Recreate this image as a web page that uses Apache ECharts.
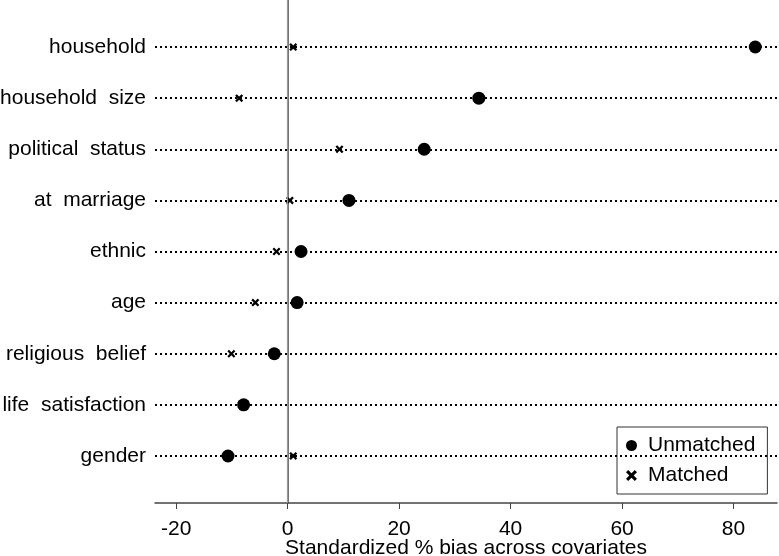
<!DOCTYPE html>
<html>
<head>
<meta charset="utf-8">
<script src="https://cdn.jsdelivr.net/npm/echarts@6/dist/echarts.min.js"></script>
<style>
html, body { margin: 0; padding: 0; background: #fff; }
#chart { width: 779px; height: 556px; }
</style>
</head>
<body>
<div id="chart"></div>
<script>
// covariates, top to bottom
var covariates = ['household', 'household  size', 'political  status', 'at  marriage', 'ethnic',
	'age', 'religious  belief', 'life  satisfaction', 'gender'];
var unmatched = [83.9, 34.3, 24.5, 11.0, 2.4, 1.7, -2.4, -7.9, -10.7];
var matched = [1.0, -8.7, 9.3, 0.4, -2.0, -5.8, -10.1, -8.3, 1.0];
var xTicks = [-20, 0, 20, 40, 60, 80];

var crossPath = 'path://M0,2L2,0L5,3L8,0L10,2L7,5L10,8L8,10L5,7L2,10L0,8L3,5Z';
var font = 'Liberation Sans, Arial, sans-serif';

// y position: top row gets the highest value
function rowY(i) {
	return covariates.length - i;
}

function toPoints(vals) {
	var pts = [];
	for (var i = 0; i < vals.length; i++) {
		pts.push([vals[i], rowY(i)]);
	}
	return pts;
}

var rowLines = [];
var rowVals = [];
for (var i = 0; i < covariates.length; i++) {
	rowLines.push({ yAxis: rowY(i) });
	rowVals.push(rowY(i));
}

var myChart = echarts.init(document.getElementById('chart'));
var option = {
	animation: false,
	backgroundColor: '#fff',
	textStyle: { fontFamily: font },
	grid: { left: 155, right: 2, top: 0, bottom: 53, outerBoundsMode: 'none', containLabel: false },
	legend: {
		orient: 'vertical',
		left: 617,
		top: 427,
		padding: [8, 12, 8, 9],
		itemGap: 9,
		itemWidth: 11,
		itemHeight: 11,
		backgroundColor: '#fff',
		borderColor: '#333',
		borderWidth: 1,
		borderRadius: 0,
		data: [
			{ name: 'Unmatched', icon: 'circle' },
			{ name: 'Matched', icon: crossPath }
		],
		textStyle: { fontSize: 21, color: '#000', fontFamily: font, lineHeight: 21, padding: [0, 0, 0, 6] }
	},
	xAxis: {
		type: 'value',
		min: -23.8,
		max: 87.8,
		name: 'Standardized % bias across covariates',
		nameLocation: 'middle',
		nameGap: 35,
		nameMoveOverlap: false,
		nameTextStyle: { fontSize: 21, color: '#000', fontFamily: font },
		axisLine: { show: true, lineStyle: { color: '#444', width: 1.5 } },
		axisTick: { show: true, length: 6, customValues: xTicks, lineStyle: { color: '#444' } },
		axisLabel: { customValues: xTicks, fontSize: 21, color: '#000', margin: 16, fontFamily: font },
		splitLine: { show: false }
	},
	yAxis: {
		type: 'value',
		min: 0.08,
		max: 9.92,
		axisLine: { show: true, lineStyle: { color: '#444', width: 1.5 } },
		axisTick: { show: false },
		axisLabel: {
			customValues: rowVals,
			fontSize: 21,
			color: '#000',
			margin: 9,
			fontFamily: font,
			formatter: function (v) {
				var idx = covariates.length - Math.round(v);
				return covariates[idx] || '';
			}
		},
		splitLine: { show: false }
	},
	series: [
		{
			name: '_ref',
			type: 'scatter',
			data: [],
			z: 1,
			markLine: {
				silent: true,
				symbol: 'none',
				label: { show: false },
				animation: false,
				data: [{
					xAxis: 0,
					lineStyle: { color: '#999', width: 1.2, type: 'solid' }
				}].concat(rowLines.map(function (d) {
					return { yAxis: d.yAxis, lineStyle: { color: '#000', width: 2, type: [2, 3] } };
				}))
			}
		},
		{
			name: 'Unmatched',
			type: 'scatter',
			z: 3,
			symbol: 'circle',
			symbolSize: 13,
			itemStyle: { color: '#000', opacity: 1 },
			data: toPoints(unmatched)
		},
		{
			name: 'Matched',
			type: 'scatter',
			z: 4,
			symbol: crossPath,
			symbolSize: 8,
			itemStyle: { color: '#000', opacity: 1 },
			data: toPoints(matched)
		}
	]
};
myChart.setOption(option);
</script>
</body>
</html>
